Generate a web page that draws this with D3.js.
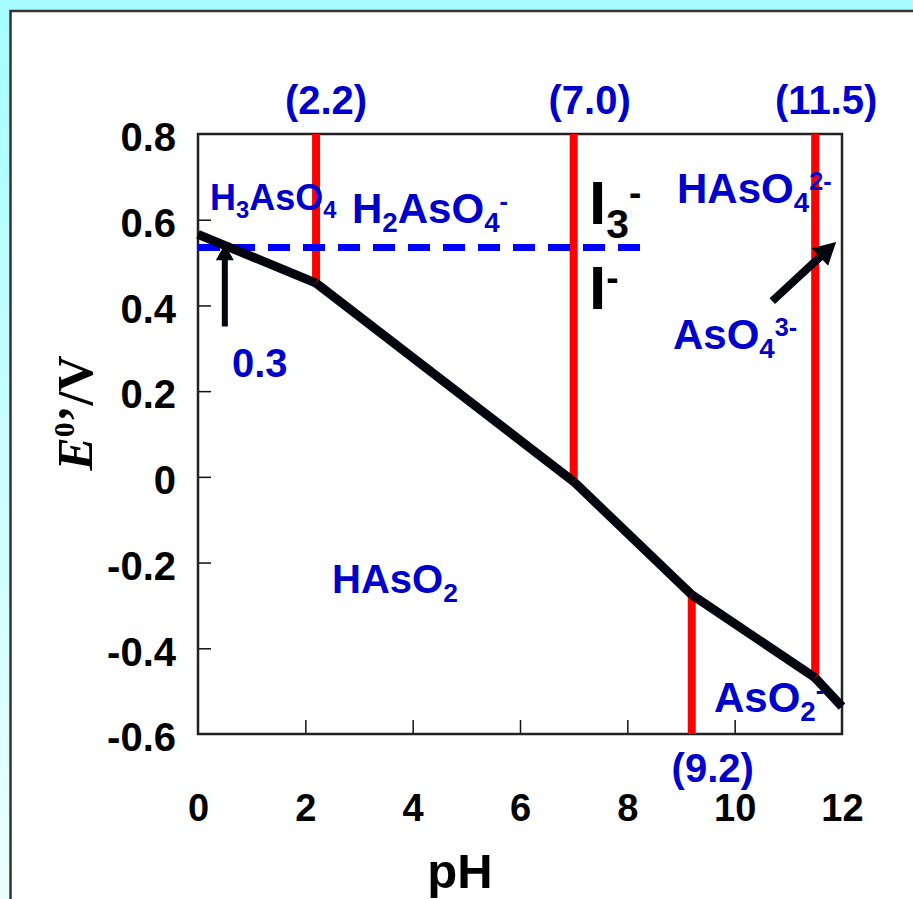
<!DOCTYPE html>
<html>
<head>
<meta charset="utf-8">
<script src="https://cdn.jsdelivr.net/npm/d3@7"></script>
<style>
  body { margin: 0; padding: 0; }
  svg { display: block; font-family: "Liberation Sans", Arial, sans-serif; }
</style>
</head>
<body>
<svg id="chart" width="913" height="899"></svg>
<script>
// pKa breaks of arsenic acid / arsenious acid
const pkaPH = [2.2, 7.0, 9.2, 11.5]
const pkaLabels = ["(2.2)", "(7.0)", "(9.2)", "(11.5)"]
const pkaFromTop = [true, true, false, true]

// E0' of the As(V)/As(III) couple vs pH
const curvePH = [0, 2.2, 7.0, 9.2, 11.5, 12]
const curveE = [0.566, 0.452, -0.011, -0.275, -0.469, -0.536]

// I3-/I- couple
const iodineE = 0.535
const iodinePH = [0, 8.3]

const xTicks = [0, 2, 4, 6, 8, 10, 12]
const yTicks = [0.8, 0.6, 0.4, 0.2, 0, -0.2, -0.4, -0.6]

const blue = "#0000cc"
const svg = d3.select("#chart")

// background + white panel
const defs = svg.append("defs")
const grad = defs.append("linearGradient").attr("id", "bg")
  .attr("x1", 0).attr("y1", 0).attr("x2", 0).attr("y2", 1)
grad.append("stop").attr("offset", "0%").attr("stop-color", "#a6fcff")
grad.append("stop").attr("offset", "100%").attr("stop-color", "#ecffff")
svg.append("rect").attr("width", 913).attr("height", 899).attr("fill", "url(#bg)")
svg.append("rect").attr("x", 10.5).attr("y", 11).attr("width", 920).attr("height", 910)
  .attr("fill", "white").attr("stroke", "#333").attr("stroke-width", 2.5)

const x = d3.scaleLinear().domain([0, 12]).range([198, 842])
const y = d3.scaleLinear().domain([-0.6, 0.8]).range([734, 134])

const g = svg.append("g")

// axes
const fmtY = d => d === 0 ? "0" : d.toFixed(1)
const xAxis = g.append("g").attr("transform", `translate(0,${y(-0.6)})`)
  .call(d3.axisBottom(x).tickValues(xTicks).tickSizeInner(-14).tickSizeOuter(0).tickFormat(d => String(d)))
xAxis.select(".domain").remove()
xAxis.selectAll(".tick line").attr("stroke", "#111").attr("stroke-width", 1.5)
  .filter(d => d === 0 || d === 12).remove()
xAxis.selectAll(".tick text").attr("y", 87).attr("dy", 0)
  .attr("font-size", 38).attr("font-weight", "bold").attr("fill", "black")
  .attr("font-family", "Liberation Sans, Arial, sans-serif")

const yAxis = g.append("g").attr("transform", `translate(${x(0)},0)`)
  .call(d3.axisLeft(y).tickValues(yTicks).tickSizeInner(-13).tickSizeOuter(0).tickFormat(fmtY))
yAxis.select(".domain").remove()
yAxis.selectAll(".tick line").attr("stroke", "#111").attr("stroke-width", 1.5)
  .filter(d => d === 0.8 || d === -0.6).remove()
yAxis.selectAll(".tick text").attr("x", -22).attr("dy", "0.42em")
  .attr("font-size", 40).attr("font-weight", "bold").attr("fill", "black")
  .attr("font-family", "Liberation Sans, Arial, sans-serif")

// plot frame
g.append("rect").attr("x", x(0)).attr("y", y(0.8))
  .attr("width", x(12) - x(0)).attr("height", y(-0.6) - y(0.8))
  .attr("fill", "none").attr("stroke", "#222").attr("stroke-width", 2.5)

// axis titles
g.append("text").attr("x", 460).attr("y", 888).attr("text-anchor", "middle")
  .attr("font-size", 49).attr("font-weight", "bold").text("pH")

const yt = g.append("text").attr("transform", "translate(92,413) rotate(-90)")
  .attr("text-anchor", "middle").attr("font-family", "Liberation Serif, Times New Roman, serif")
  .attr("font-size", 50).attr("font-weight", "bold")
yt.append("tspan").attr("font-style", "italic").text("E")
yt.append("tspan").attr("font-size", 30).attr("dy", -18).text("0")
yt.append("tspan").attr("dy", 18).text("\u2019/V")

// red pKa lines
pkaPH.forEach((p, i) => {
  const e = curveE[curvePH.indexOf(p)]
  g.append("line").attr("x1", x(p)).attr("x2", x(p))
    .attr("y1", pkaFromTop[i] ? y(0.8) : y(e))
    .attr("y2", pkaFromTop[i] ? y(e) : y(-0.6))
    .attr("stroke", "#ff0000").attr("stroke-width", 8)
})

// iodine dashed line
g.append("line").attr("x1", x(iodinePH[0])).attr("x2", x(iodinePH[1]))
  .attr("y1", y(iodineE)).attr("y2", y(iodineE))
  .attr("stroke", "#0000ff").attr("stroke-width", 7).attr("stroke-dasharray", "22,13")

// E0' curve, drawn segment by segment
const line = d3.line().x(d => x(d[0])).y(d => y(d[1]))
d3.pairs(d3.zip(curvePH, curveE)).forEach(seg => {
  g.append("path").attr("d", line(seg)).attr("fill", "none")
    .attr("stroke", "#05050f").attr("stroke-width", 9).attr("stroke-linecap", "butt")
})

// pKa labels
const pkaDx = [10, 16, 21, 11]
const pkaY = [114, 114, 782, 114]
pkaPH.forEach((p, i) => {
  g.append("text").attr("x", x(p) + pkaDx[i]).attr("y", pkaY[i]).attr("text-anchor", "middle")
    .attr("font-size", 40).attr("font-weight", "bold").attr("fill", blue).text(pkaLabels[i])
})

// chemical species labels
function chem(px, py, size, color, parts) {
  const t = g.append("text").attr("x", px).attr("y", py).attr("font-size", size)
    .attr("font-weight", "bold").attr("fill", color)
  let shift = 0
  parts.forEach(p => {
    const kind = p[1]
    const target = kind === "sub" ? size * 0.22 : kind === "sup" ? -size * 0.3 : 0
    const fs = kind === "sub" ? size * 0.66 : kind === "sup" ? size * 0.6 : size
    t.append("tspan").attr("dy", target - shift).attr("font-size", fs).text(p[0])
    shift = target
  })
}
chem(210, 210, 36, blue, [["H"], ["3", "sub"], ["AsO"], ["4", "sub"]])
chem(352, 223, 42, blue, [["H"], ["2", "sub"], ["AsO"], ["4", "sub"], ["-", "sup"]])
chem(677, 203, 42, blue, [["HAsO"], ["4", "sub"], ["2-", "sup"]])
chem(673, 349, 42, blue, [["AsO"], ["4", "sub"], ["3-", "sup"]])
chem(332, 593, 40, blue, [["HAsO"], ["2", "sub"]])
chem(714, 712, 42, blue, [["AsO"], ["2", "sub"], ["-", "sup"]])
chem(589, 224, 62, "black", [["I"], ["3", "sub"], ["-", "sup"]])
chem(589, 309, 62, "black", [["I"], ["-", "sup"]])

g.append("text").attr("x", 232).attr("y", 377).attr("font-size", 40)
  .attr("font-weight", "bold").attr("fill", blue).text("0.3")

// arrows
function arrow(p1, p2, shaftW, headL, headW) {
  const x1 = x(p1[0]), y1 = y(p1[1]), x2 = x(p2[0]), y2 = y(p2[1])
  const len = Math.hypot(x2 - x1, y2 - y1)
  const ux = (x2 - x1) / len, uy = (y2 - y1) / len
  const nx = -uy, ny = ux
  const bx = x2 - ux * headL, by = y2 - uy * headL
  const pts = [
    [x1 + nx * shaftW / 2, y1 + ny * shaftW / 2],
    [bx + nx * shaftW / 2, by + ny * shaftW / 2],
    [bx + nx * headW / 2, by + ny * headW / 2],
    [x2, y2],
    [bx - nx * headW / 2, by - ny * headW / 2],
    [bx - nx * shaftW / 2, by - ny * shaftW / 2],
    [x1 - nx * shaftW / 2, y1 - ny * shaftW / 2]
  ]
  g.append("path").attr("d", "M" + pts.map(q => q.join(",")).join("L") + "Z")
    .attr("fill", "#05050f")
}
arrow([0.5, 0.351], [0.5, 0.543], 6, 16, 18)
arrow([10.7, 0.41], [11.89, 0.548], 8, 22, 24)
</script>
</body>
</html>
